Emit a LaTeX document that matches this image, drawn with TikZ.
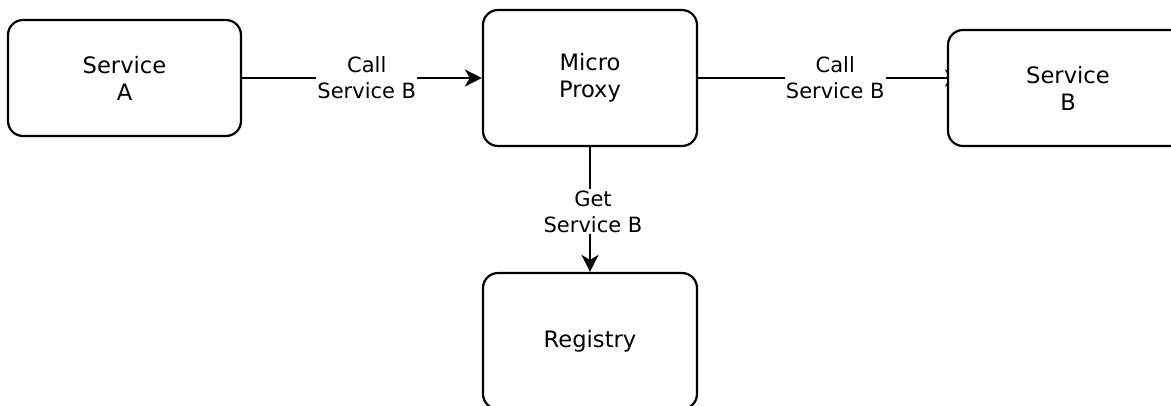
\documentclass[tikz,border=0pt]{standalone}
\usepackage{fontspec}
\setmainfont{DejaVu Sans}
\usetikzlibrary{arrows.meta}
\pgfdeclarelayer{background}
\pgfsetlayers{background,main}
\begin{document}
\begin{tikzpicture}[x=1pt,y=-1pt,
  box/.style={draw, line width=2.2pt, rounded corners=15pt, fill=white,
    align=center, inner sep=0pt, font=\fontsize{22.6}{27}\selectfont},
  lbl/.style={fill=white, align=center, inner xsep=1pt, inner ysep=2pt,
    font=\fontsize{21}{26}\selectfont},
  link/.style={line width=2.1pt, -{Stealth[length=17pt,width=17pt,inset=5pt]}}]
\useasboundingbox (0,0) rectangle (1171,405);
\clip (0,0) rectangle (1171,405);

% services and the proxy between them
\node[box, minimum width=233pt, minimum height=116pt] (a) at (124.5,78) {Service\\A};
\node[box, minimum width=214pt, minimum height=136pt] (p) at (590,78) {Micro\\Proxy};
\node[box, minimum width=240pt, minimum height=116pt] (b) at (1068,88) {Service\\B};
\node[box, minimum width=214pt, minimum height=136pt] (r) at (590,341) {\raisebox{-3pt}{Registry}};

% calls, drawn beneath the boxes
\begin{pgfonlayer}{background}
\draw[link] (a.east) -- node[lbl, pos=0.52] {Call\\Service B} (p.west);
\draw[link] (p.east) -- node[lbl, pos=0.52] {Call\\Service B} ([xshift=15pt]b.west |- p.east);
\draw[link] (p.south) -- node[lbl, xshift=3pt, yshift=-2pt] {Get\\Service B} (r.north);
\end{pgfonlayer}
\end{tikzpicture}
\end{document}
